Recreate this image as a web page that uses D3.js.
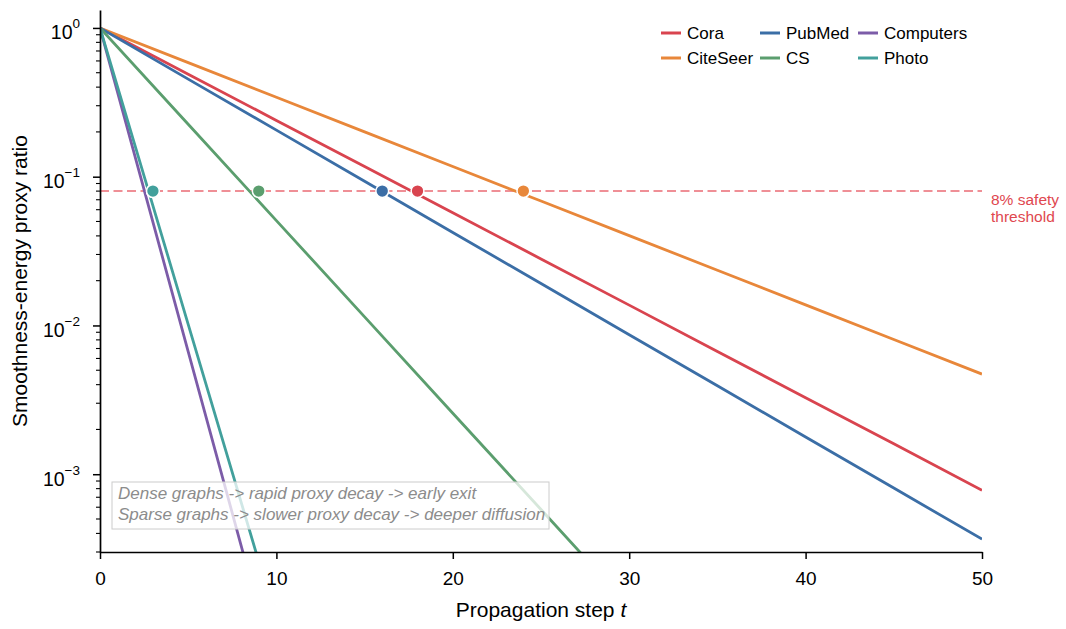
<!DOCTYPE html>
<html>
<head>
<meta charset="utf-8">
<script src="https://cdn.jsdelivr.net/npm/d3@7"></script>
<style>
  body { margin: 0; background: #fff; }
  svg, svg text { font-family: "Liberation Sans", Arial, sans-serif; }
</style>
</head>
<body>
<svg id="chart" width="1066" height="629"></svg>
<script>
// propagation steps sampled for each curve
const steps = [0, 5, 10, 15, 20, 25, 30, 35, 40, 45, 50];

// proxy ratio (null = below the visible range)
const cora      = [1, 0.489, 0.239, 0.117, 0.0572, 0.028, 0.0137, 0.00668, 0.00327, 0.0016, 0.00078];
const citeseer  = [1, 0.585, 0.342, 0.200, 0.117, 0.0686, 0.0402, 0.0235, 0.01375, 0.00805, 0.00471];
const pubmed    = [1, 0.453, 0.2055, 0.0931, 0.0422, 0.01913, 0.00867, 0.00393, 0.00178, 0.000807, 0.000366];
const cs        = [1, 0.2252, 0.0507, 0.01142, 0.00257, 0.000579, 0.00013, null, null, null, null];
const computers = [1, 0.00668, 0.0000447, null, null, null, null, null, null, null, null];
const photo     = [1, 0.01018, 0.0001035, null, null, null, null, null, null, null, null];

const names  = ["Cora", "CiteSeer", "PubMed", "CS", "Computers", "Photo"];
const colors = ["#d9444f", "#e8873a", "#3b6ea6", "#5b9e6e", "#7c5ca8", "#42a09c"];
const seriesValues = [cora, citeseer, pubmed, cs, computers, photo];
// first step where ratio drops under the threshold
const exitSteps = [18, 24, 16, 9, 3, 3];
const threshold = 0.08;

const yMajor = [1, 0.1, 0.01, 0.001];
const xTicks = [0, 10, 20, 30, 40, 50];

const margin = {left: 100, right: 84, top: 10, bottom: 77};
const W = 1066, H = 629;

const svg = d3.select("#chart");

const x = d3.scaleLinear().domain([0, 50]).range([margin.left, W - margin.right]);
const y = d3.scaleLog().domain([0.0003, 1.32]).range([H - margin.bottom, margin.top]);

svg.append("clipPath").attr("id", "clip")
  .append("rect")
  .attr("x", margin.left).attr("y", margin.top)
  .attr("width", x(50) - x(0)).attr("height", y(0.0003) - y(1.32));

// threshold line
svg.append("line")
  .attr("x1", x(0)).attr("x2", x(50))
  .attr("y1", y(threshold)).attr("y2", y(threshold))
  .attr("stroke", "#ef8f96")
  .attr("stroke-width", 2)
  .attr("stroke-dasharray", "9,4.5");

svg.append("text")
  .attr("y", y(threshold) + 14)
  .attr("fill", "#e0474f").attr("font-size", 15.5)
  .selectAll("tspan").data(["8% safety", "threshold"]).join("tspan")
  .attr("x", 991).attr("dy", (d, i) => i ? 17 : 0)
  .text(d => d);

// curves
const line = d3.line()
  .defined(d => d[1] != null)
  .x(d => x(d[0]))
  .y(d => y(d[1]));

const g = svg.append("g").attr("clip-path", "url(#clip)");
seriesValues.forEach((vals, i) => {
  g.append("path")
    .datum(steps.map((t, j) => [t, vals[j]]))
    .attr("fill", "none")
    .attr("stroke", colors[i])
    .attr("stroke-width", 2.8)
    .attr("d", line);
});

// exit markers
svg.append("g").selectAll("circle")
  .data(exitSteps)
  .join("circle")
  .attr("cx", d => x(d))
  .attr("cy", y(threshold))
  .attr("r", 6.4)
  .attr("fill", (d, i) => colors[i])
  .attr("stroke", "#fff")
  .attr("stroke-width", 1.5);

// annotation box
const note = svg.append("g");
note.append("rect")
  .attr("x", 112).attr("y", 482).attr("width", 437).attr("height", 47)
  .attr("fill", "rgba(255,255,255,0.75)")
  .attr("stroke", "#cccccc").attr("stroke-width", 1);
note.selectAll("text")
  .data(["Dense graphs -> rapid proxy decay -> early exit",
         "Sparse graphs -> slower proxy decay -> deeper diffusion"])
  .join("text")
  .attr("x", 118).attr("y", (d, i) => 499 + i * 21)
  .attr("font-size", 17).attr("font-style", "italic")
  .attr("fill", "#8c8c8c")
  .text(d => d);

// axes
const xAxis = svg.append("g")
  .attr("transform", `translate(0,${H - margin.bottom})`)
  .call(d3.axisBottom(x).tickValues(xTicks).tickSize(7).tickSizeOuter(0).tickPadding(13));
xAxis.attr("font-family", null);
xAxis.selectAll("text").attr("font-size", 19).attr("fill", "#000");

const minor = [];
[0.0001, 0.001, 0.01, 0.1].forEach(b => {
  for (let k = 2; k <= 9; k++) {
    const v = b * k;
    if (v >= 0.0003 && v <= 1.32) minor.push(v);
  }
});

const yAxis = svg.append("g")
  .attr("transform", `translate(${margin.left},0)`)
  .call(d3.axisLeft(y).tickValues(yMajor).tickSize(7).tickSizeOuter(0).tickFormat(""));
yAxis.attr("font-family", null);
yAxis.selectAll(".minor").data(minor).join("line")
  .attr("class", "minor")
  .attr("x1", -4).attr("x2", 0)
  .attr("y1", d => y(d)).attr("y2", d => y(d))
  .attr("stroke", "#000").attr("stroke-width", 1.1);

[xAxis, yAxis].forEach(a => {
  a.select(".domain").attr("stroke-width", 1.7);
  a.selectAll(".tick line").attr("stroke-width", 1.5);
});

yAxis.selectAll(".tick").each(function(d) {
  const e = Math.round(Math.log10(d));
  const t = d3.select(this).append("text")
    .attr("x", -20).attr("y", 11)
    .attr("text-anchor", "end")
    .attr("fill", "#000").attr("font-size", 19.5);
  t.append("tspan").text("10");
  t.append("tspan").attr("font-size", 13.5).attr("dy", -11).text(e === 0 ? "0" : "\u2212" + Math.abs(e));
});

// axis labels
const xl = svg.append("text")
  .attr("x", (x(0) + x(50)) / 2).attr("y", 617)
  .attr("text-anchor", "middle").attr("font-size", 21);
xl.append("tspan").text("Propagation step ");
xl.append("tspan").attr("font-style", "italic").text("t");

svg.append("text")
  .attr("transform", `translate(27,${(y(0.0003) + y(1.32)) / 2}) rotate(-90)`)
  .attr("text-anchor", "middle").attr("font-size", 21)
  .text("Smoothness-energy proxy ratio");

// legend, filled column by column
const legCols = [661, 760, 858];
const leg = svg.append("g").selectAll("g")
  .data(names)
  .join("g")
  .attr("transform", (d, i) => {
    const col = Math.floor(i / 2), row = i % 2;
    return `translate(${legCols[col]},${33 + row * 25})`;
  });
leg.append("line")
  .attr("x1", 0).attr("x2", 20)
  .attr("stroke", (d, i) => colors[i]).attr("stroke-width", 3);
leg.append("text")
  .attr("x", 26).attr("y", 6)
  .attr("font-size", 17)
  .text(d => d);
</script>
</body>
</html>
